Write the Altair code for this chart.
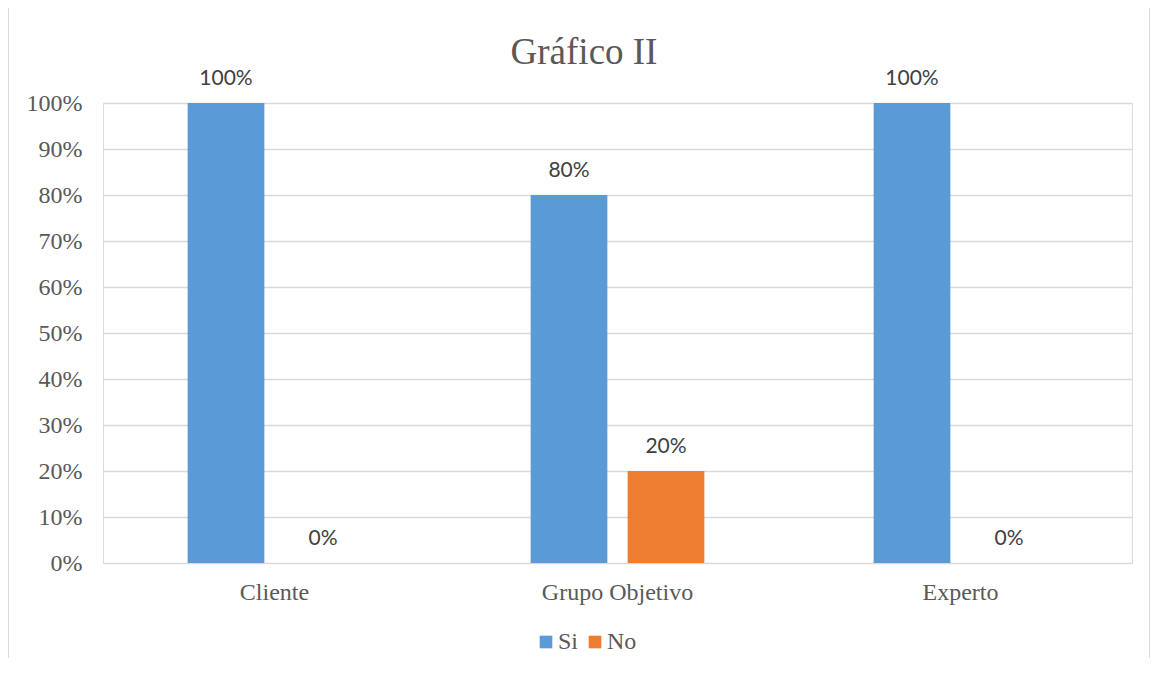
import altair as alt
import pandas as pd

categorias = ["Cliente", "Grupo Objetivo", "Experto"]
series = ["Si", "No"]
valores_si = [1.00, 0.80, 1.00]
valores_no = [0.00, 0.20, 0.00]
colores = ["#5B9BD5", "#ED7D31"]
ticks_y = [0, 0.1, 0.2, 0.3, 0.4, 0.5, 0.6, 0.7, 0.8, 0.9, 1.0]

rows = []
for c, s, n in zip(categorias, valores_si, valores_no):
    rows.append({"categoria": c, "serie": "Si", "valor": s})
    rows.append({"categoria": c, "serie": "No", "valor": n})
df = pd.DataFrame(rows)

W, H = 1029, 460
serif = "Liberation Serif"

x_enc = alt.X("categoria:N", sort=categorias, title=None,
              scale=alt.Scale(paddingInner=0, paddingOuter=0),
              axis=alt.Axis(labelAngle=0, labelFont=serif, labelFontSize=24,
                            labelColor="#595959", ticks=False, tickSize=0,
                            domain=False, grid=False, labelPadding=36,
                            labelBaseline="alphabetic"))
xoff = alt.XOffset("serie:N", sort=series,
                   scale=alt.Scale(domain=series, paddingInner=0.209, paddingOuter=0.873))
y_enc = alt.Y("valor:Q", title=None,
              scale=alt.Scale(domain=[0, 1], nice=False),
              axis=alt.Axis(values=ticks_y, format=".0%", labelFont=serif,
                            labelFontSize=24, labelColor="#595959", ticks=False,
                            tickSize=0, domain=False, grid=True, gridColor="#d9d9d9",
                            gridWidth=1.3, labelPadding=21, labelAlign="right",
                            labelBaseline="middle"))

base = alt.Chart(df)

bars = base.mark_bar().encode(
    x=x_enc,
    xOffset=xoff,
    y=y_enc,
    color=alt.Color("serie:N", sort=series,
                    scale=alt.Scale(domain=series, range=colores),
                    legend=alt.Legend(title=None, orient="none", direction="horizontal",
                                      legendX=431, legendY=527, padding=0,
                                      symbolType="square", symbolSize=160,
                                      symbolStrokeWidth=0, labelFont=serif,
                                      labelFontSize=24, labelColor="#595959",
                                      labelOffset=0, columnPadding=4)),
)

labels = base.mark_text(font="Lato", fontSize=21, color="#404040",
                        baseline="alphabetic", dy=-18).encode(
    x=alt.X("categoria:N", sort=categorias),
    xOffset=alt.XOffset("serie:N", sort=series),
    y=alt.Y("valor:Q"),
    text=alt.Text("valor:Q", format=".0%"),
)

frame = alt.Chart(pd.DataFrame({"a": [0]})).mark_rect(
    fillOpacity=0, stroke="#d9d9d9", strokeWidth=1
).encode(
    x=alt.value(-94.5), x2=alt.value(1046.5),
    y=alt.value(-95.5), y2=alt.value(640),
)

chart = alt.layer(frame, bars, labels).properties(
    width=W, height=H,
    autosize=alt.AutoSizeParams(type="none"),
    padding={"left": 95, "top": 95, "right": 20, "bottom": 95},
    title=alt.TitleParams(text="Gráfico II", font=serif, fontSize=37,
                          color="#595959", fontWeight="normal", anchor="middle",
                          frame="group", dx=-33.5, baseline="alphabetic", offset=-94),
).configure_view(stroke=None).configure(background="white")

chart.save("out.html", embed_options={"renderer": "svg", "actions": False})
